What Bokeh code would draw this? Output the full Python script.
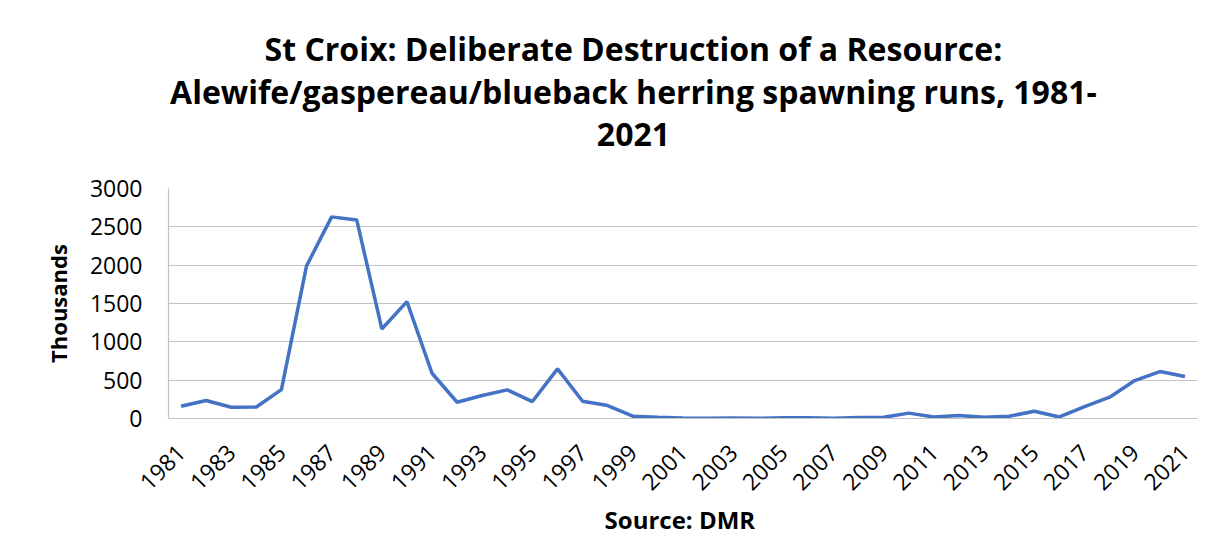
from bokeh.plotting import figure
from bokeh.models import FixedTicker, Range1d
from bokeh.layouts import column
from bokeh.core.properties import value
from bokeh.embed import file_html
from bokeh.resources import INLINE
from math import pi

years = list(range(1981, 2022))
thousands = [160, 234, 147, 150, 377, 1990, 2630, 2590, 1168, 1525,
             590, 212, 300, 373, 221, 647, 225, 169, 30, 15,
             5, 3, 8, 3, 10, 10, 3, 12, 15, 70,
             20, 40, 15, 30, 95, 20, 156, 278, 495, 612, 547]
x_ticks = list(range(1981, 2022, 2))
y_ticks = [0, 500, 1000, 1500, 2000, 2500, 3000]
title_lines = ["St Croix: Deliberate Destruction of a Resource:",
               "Alewife/gaspereau/blueback herring spawning runs, 1981-",
               "2021"]

FONT = "Open Sans"
GRID = "#c4c4c4"
W = 1204
TOP_H = 160

# --- title strip (its own small figure, no axes) ---
t = figure(width=W, height=TOP_H, output_backend="svg", toolbar_location=None,
           x_range=Range1d(0, W), y_range=Range1d(TOP_H, 0), min_border=0,
           x_axis_location=None, y_axis_location=None)
t.grid.visible = False
t.outline_line_color = None
t.background_fill_color = "white"
t.border_fill_color = "white"
t.text(x=[544, 544, 544], y=[48, 91, 134], text=title_lines,
       text_align="center", text_baseline="alphabetic",
       text_font=value(FONT), text_font_style="bold",
       text_font_size="32px", text_color="#000000")

# --- main chart ---
p = figure(width=W, height=541 - TOP_H, output_backend="svg", toolbar_location=None,
           x_range=Range1d(1980.5, 2021.5), y_range=Range1d(0, 3000),
           min_border_left=168, min_border_right=7, min_border_top=188 - TOP_H,
           min_border_bottom=123)
p.outline_line_color = None
p.background_fill_color = "white"
p.border_fill_color = "white"

p.line(years, thousands, line_color="#4472C4", line_width=3.5)

p.xgrid.grid_line_color = None
p.ygrid.grid_line_color = GRID
p.ygrid.grid_line_width = 1.2
p.yaxis.ticker = FixedTicker(ticks=y_ticks)
p.xaxis.ticker = FixedTicker(ticks=x_ticks)

for ax in (p.xaxis, p.yaxis):
    ax.axis_line_color = GRID
    ax.axis_line_width = 1.2
    ax.major_tick_line_color = None
    ax.minor_tick_line_color = None
    ax.major_label_text_font = FONT
    ax.major_label_text_font_size = "23px"
    ax.major_label_text_color = "#000000"
    ax.axis_label_text_font = FONT
    ax.axis_label_text_font_style = "bold"
    ax.axis_label_text_color = "#000000"

p.yaxis.major_label_standoff = 20
p.yaxis.axis_label = "Thousands"
p.yaxis.axis_label_text_font_size = "22px"
p.yaxis.axis_label_standoff = 14

p.xaxis.major_label_orientation = pi / 4
p.xaxis.major_label_standoff = 24
p.xaxis.axis_label = "Source:  DMR"
p.xaxis.axis_label_text_font_size = "24px"
p.xaxis.axis_label_standoff = 2

layout = column(t, p, spacing=0)
open("out.html", "w").write(file_html(layout, INLINE))
